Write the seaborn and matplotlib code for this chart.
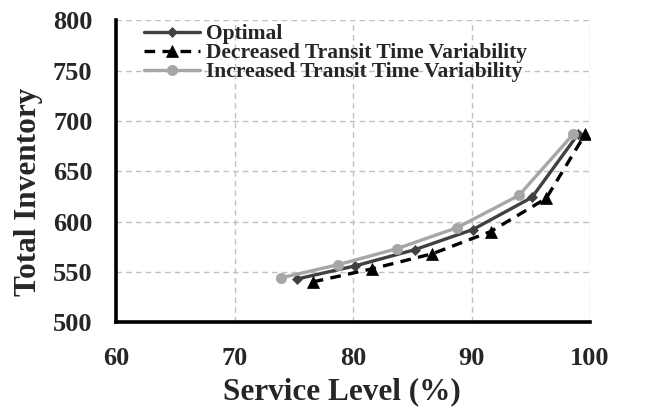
import matplotlib
matplotlib.use("Agg")
import matplotlib.pyplot as plt
import seaborn as sns
import pandas as pd

series_names = ["Optimal", "Decreased Transit Time Variability", "Increased Transit Time Variability"]
optimal_x = [75.3, 80.2, 85.2, 90.1, 95.1, 99.0]
optimal_y = [543, 556, 572, 592, 624, 687]
decreased_x = [76.6, 81.6, 86.7, 91.6, 96.3, 99.6]
decreased_y = [540, 553, 568, 590, 623, 687]
increased_x = [73.9, 78.7, 83.7, 88.8, 94.0, 98.6]
increased_y = [544, 557, 573, 594, 626, 687]
x_ticks = [60, 70, 80, 90, 100]
y_ticks = [500, 550, 600, 650, 700, 750, 800]

sns.set_theme(style="white")
plt.rcParams["font.family"] = ["Liberation Serif", "DejaVu Serif"]
plt.rcParams["font.weight"] = "bold"

fig = plt.figure(figsize=(6.52, 4.12), dpi=100)
ax = fig.add_axes([0.178, 0.218, 0.727, 0.733])

styles = [
    dict(color="#404040", marker="D", markersize=5.5, linestyle="-"),
    dict(color="#000000", marker="^", markersize=8, linestyle=(0, (3.2, 2.2))),
    dict(color="#a6a6a6", marker="o", markersize=7.5, linestyle="-"),
]
data = [(optimal_x, optimal_y), (decreased_x, decreased_y), (increased_x, increased_y)]
for name, (xs, ys), st in zip(series_names, data, styles):
    df = pd.DataFrame({"x": xs, "y": ys})
    sns.lineplot(data=df, x="x", y="y", ax=ax, label=name, color=st["color"],
                 marker=st["marker"], markersize=st["markersize"],
                 linestyle=st["linestyle"], linewidth=2.4,
                 markeredgecolor=st["color"], markeredgewidth=0.5)

ax.set_xlim(60, 100)
ax.set_ylim(500, 800)
ax.set_xticks(x_ticks)
ax.set_yticks(y_ticks)
ax.grid(True, color="#c0c0c0", linestyle=(0, (4, 3)), linewidth=1)
ax.set_axisbelow(True)
for s in ["top", "right"]:
    ax.spines[s].set_visible(False)
for s in ["left", "bottom"]:
    ax.spines[s].set_color("black")
    ax.spines[s].set_linewidth(2.6)
ax.tick_params(axis="both", which="major", length=6, width=2, color="black",
               labelsize=19, direction="out")
ax.tick_params(axis="y", pad=11)
ax.tick_params(axis="x", pad=12)
for lab in ax.get_xticklabels() + ax.get_yticklabels():
    lab.set_fontweight("bold")
ax.set_xlabel("Service Level (%)", fontsize=22.5, fontweight="bold")
ax.set_ylabel("Total Inventory", fontsize=22.5, fontweight="bold")
ax.xaxis.set_label_coords(0.476, -0.182)
ax.yaxis.set_label_coords(-0.155, 0.43)

leg = ax.legend(loc="upper left", frameon=False, fontsize=15.5, handlelength=2.6,
                handletextpad=0.3, labelspacing=-0.05, borderaxespad=0.0,
                bbox_to_anchor=(0.04, 1.015))
for t in leg.get_texts():
    t.set_fontweight("bold")

fig.savefig("out.png", dpi=100)
